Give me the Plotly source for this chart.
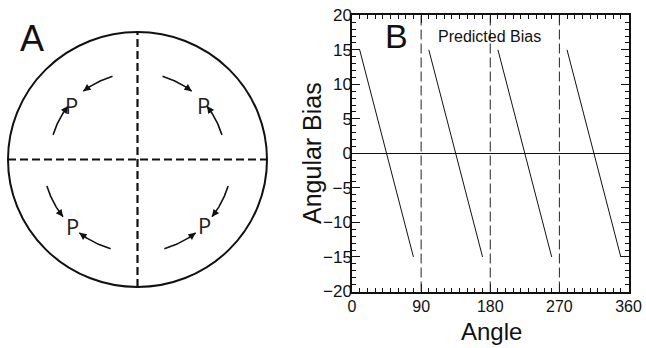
import numpy as np
import plotly.graph_objects as go

# ---------------- Panel B data ----------------
seg_start_angle = [10, 100, 190, 280]
seg_end_angle = [80, 170, 260, 350]
bias_at_start = [15, 15, 15, 15]
bias_at_end = [-15, -15, -15, -15]
quadrant_bounds = [90, 180, 270]
x_tick_vals = [0, 90, 180, 270, 360]
y_tick_vals = [-20, -15, -10, -5, 0, 5, 10, 15, 20]

# ---------------- Panel A schematic ----------------
p_angles = [140, 40, 226, 315]          # degrees, position of each "P"
p_radius = [0.67, 0.67, 0.72, 0.73]     # fraction of circle radius
arc_centers = [135, 45, 225, 315]       # quadrant centre angles
arc_radius = [0.68, 0.68, 0.73, 0.73]
arc_far = 28.5                          # degrees from centre where arcs start
arc_near = 7.0                          # degrees from centre where arrows end

FONT = "Liberation Sans, Arial, sans-serif"
W, H = 646, 348

fig = go.Figure()

# Panel A geometry: circle centre at pixel (137.5, 159.5)
cx_px, cy_px, rx_px, ry_px = 137.5, 159.5, 129.5, 127.5
panelA_w = 280
xa_range = [-cx_px / rx_px, (panelA_w - cx_px) / rx_px]
ya_range = [-(H - cy_px) / ry_px, cy_px / ry_px]

annotations = []
shapes = []

# circle + dashed diameters
shapes.append(dict(type="circle", xref="x2", yref="y2", x0=-1, x1=1, y0=-1, y1=1,
                   line=dict(color="#111", width=2)))
shapes.append(dict(type="line", xref="x2", yref="y2", x0=-1, x1=1, y0=0, y1=0,
                   line=dict(color="#111", width=2.2, dash="8px,4px")))
shapes.append(dict(type="line", xref="x2", yref="y2", x0=0, x1=0, y0=-1, y1=1,
                   line=dict(color="#111", width=2.2, dash="8px,4px")))

# arcs with arrows
for c, r in zip(arc_centers, arc_radius):
    for sgn in (1, -1):
        a0 = c + sgn * arc_far
        a1 = c + sgn * arc_near
        th = np.radians(np.linspace(a0, a1, 30))
        fig.add_trace(go.Scatter(x=r * np.cos(th), y=r * np.sin(th), mode="lines",
                                 line=dict(color="#111", width=1.6),
                                 xaxis="x2", yaxis="y2", hoverinfo="skip",
                                 showlegend=False))
        tail = np.radians(a1 + sgn * 3)
        tip = np.radians(a1)
        annotations.append(dict(x=r * np.cos(tip), y=r * np.sin(tip),
                                ax=r * np.cos(tail), ay=r * np.sin(tail),
                                xref="x2", yref="y2", axref="x2", ayref="y2",
                                text="", showarrow=True, arrowhead=2,
                                arrowsize=0.9, arrowwidth=1.6, arrowcolor="#111"))

# P labels
for ang, r in zip(p_angles, p_radius):
    t = np.radians(ang)
    annotations.append(dict(x=r * np.cos(t), y=r * np.sin(t), xref="x2", yref="y2",
                            text="P", showarrow=False,
                            font=dict(family="Open Sans, " + FONT, size=22, color="#222"),
                            xanchor="center", yanchor="middle"))

# Panel labels
annotations.append(dict(x=31.5 / W, y=1 - 38 / H, xref="paper", yref="paper", text="A",
                        showarrow=False, font=dict(family=FONT, size=36, color="#111"),
                        xanchor="center", yanchor="middle"))
annotations.append(dict(x=396 / W, y=1 - 36.5 / H, xref="paper", yref="paper", text="B",
                        showarrow=False, font=dict(family=FONT, size=34, color="#111"),
                        xanchor="center", yanchor="middle"))
annotations.append(dict(x=489.5 / W, y=1 - 36.5 / H, xref="paper", yref="paper",
                        text="Predicted Bias", showarrow=False,
                        font=dict(family=FONT, size=16, color="#111"),
                        xanchor="center", yanchor="middle"))
# axis titles
annotations.append(dict(x=491.5 / W, y=1 - 331.5 / H, xref="paper", yref="paper",
                        text="Angle", showarrow=False,
                        font=dict(family=FONT, size=24, color="#111"),
                        xanchor="center", yanchor="middle"))
annotations.append(dict(x=312 / W, y=1 - 153 / H, xref="paper", yref="paper",
                        text="Angular Bias", showarrow=False, textangle=-90,
                        font=dict(family=FONT, size=25, color="#111"),
                        xanchor="center", yanchor="middle"))

# Panel B lines
xs, ys = [], []
for s, e, b0, b1 in zip(seg_start_angle, seg_end_angle, bias_at_start, bias_at_end):
    xs += [s, e, None]
    ys += [b0, b1, None]
fig.add_trace(go.Scatter(x=xs, y=ys, mode="lines", line=dict(color="#111", width=1),
                         showlegend=False, hoverinfo="skip"))

for qb in quadrant_bounds:
    shapes.append(dict(type="line", xref="x", yref="y domain", x0=qb, x1=qb, y0=0, y1=1,
                       line=dict(color="#222", width=1, dash="10px,4px")))

ax_common = dict(showline=True, linewidth=1.5, linecolor="#111", mirror="ticks",
                 ticks="inside", ticklen=8, tickwidth=1.2, tickcolor="#111",
                 showgrid=False, automargin=False)

fig.update_layout(
    width=W, height=H, autosize=False,
    margin=dict(l=0, r=0, t=0, b=0, pad=0),
    paper_bgcolor="white", plot_bgcolor="white",
    xaxis=dict(domain=[352 / W, 628.5 / W], range=[0, 360], tickvals=x_tick_vals,
               zeroline=False, ticklabelstandoff=0,
               tickfont=dict(family=FONT, size=16, color="#111"),
               minor=dict(dtick=10, ticks="inside", ticklen=4, tickcolor="#111", tickwidth=1),
               **ax_common),
    yaxis=dict(domain=[1 - 291.5 / H, 1 - 15.3 / H], range=[-20, 20], tickvals=y_tick_vals,
               zeroline=True, zerolinecolor="#111", zerolinewidth=1, ticklabelstandoff=-5,
               tickfont=dict(family=FONT, size=17, color="#111"),
               minor=dict(dtick=1, ticks="inside", ticklen=4, tickcolor="#111", tickwidth=1),
               **ax_common),
    xaxis2=dict(domain=[0, panelA_w / W], range=xa_range, visible=False, automargin=False),
    yaxis2=dict(domain=[0, 1], range=ya_range, visible=False, automargin=False),
    shapes=shapes,
    annotations=annotations,
)

fig.write_html("out.html")
